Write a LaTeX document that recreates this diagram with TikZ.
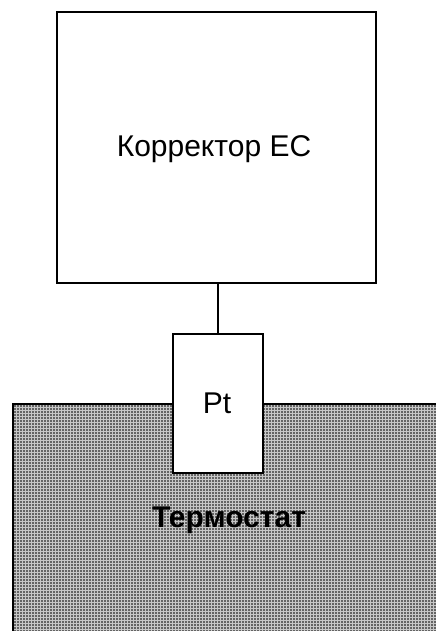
\documentclass[tikz,border=0pt]{standalone}
\usepackage{fontspec}
\setmainfont{Liberation Sans}
\usetikzlibrary{patterns.meta}
\begin{document}
\begin{tikzpicture}[x=1pt,y=-1pt,
  box/.style={draw=black,line width=1.8pt,fill=white},
  lbl/.style={font=\fontsize{30}{36}\selectfont,inner sep=0pt,anchor=base},
  wire/.style={draw=black,line width=1.6pt}]
\useasboundingbox (0,0) rectangle (436,631);
% thermostat bath
\fill[black!22] (13,404) rectangle (436,631);
\fill[pattern={Dots[radius=0.85pt,distance=3pt]},pattern color=black] (13,404) rectangle (436,631);
\draw[line width=2pt] (13,631) -- (13,404) -- (436,404);
% nodes
\node[box,minimum width=319pt,minimum height=271pt,anchor=north west] (ec) at (56,11) {};
\node[box,minimum width=90pt,minimum height=139pt,anchor=north west] (pt) at (172,333) {};
\node[lbl] (ect) at (214,157) {Корректор ЕС};
\node[lbl] (ptt) at (217,413) {Pt};
\node[lbl,font=\fontsize{30}{36}\selectfont\bfseries] (tt) at (229,527) {Термостат};
\draw[wire] (ec.south -| pt.north) -- (pt.north);
\end{tikzpicture}
\end{document}
